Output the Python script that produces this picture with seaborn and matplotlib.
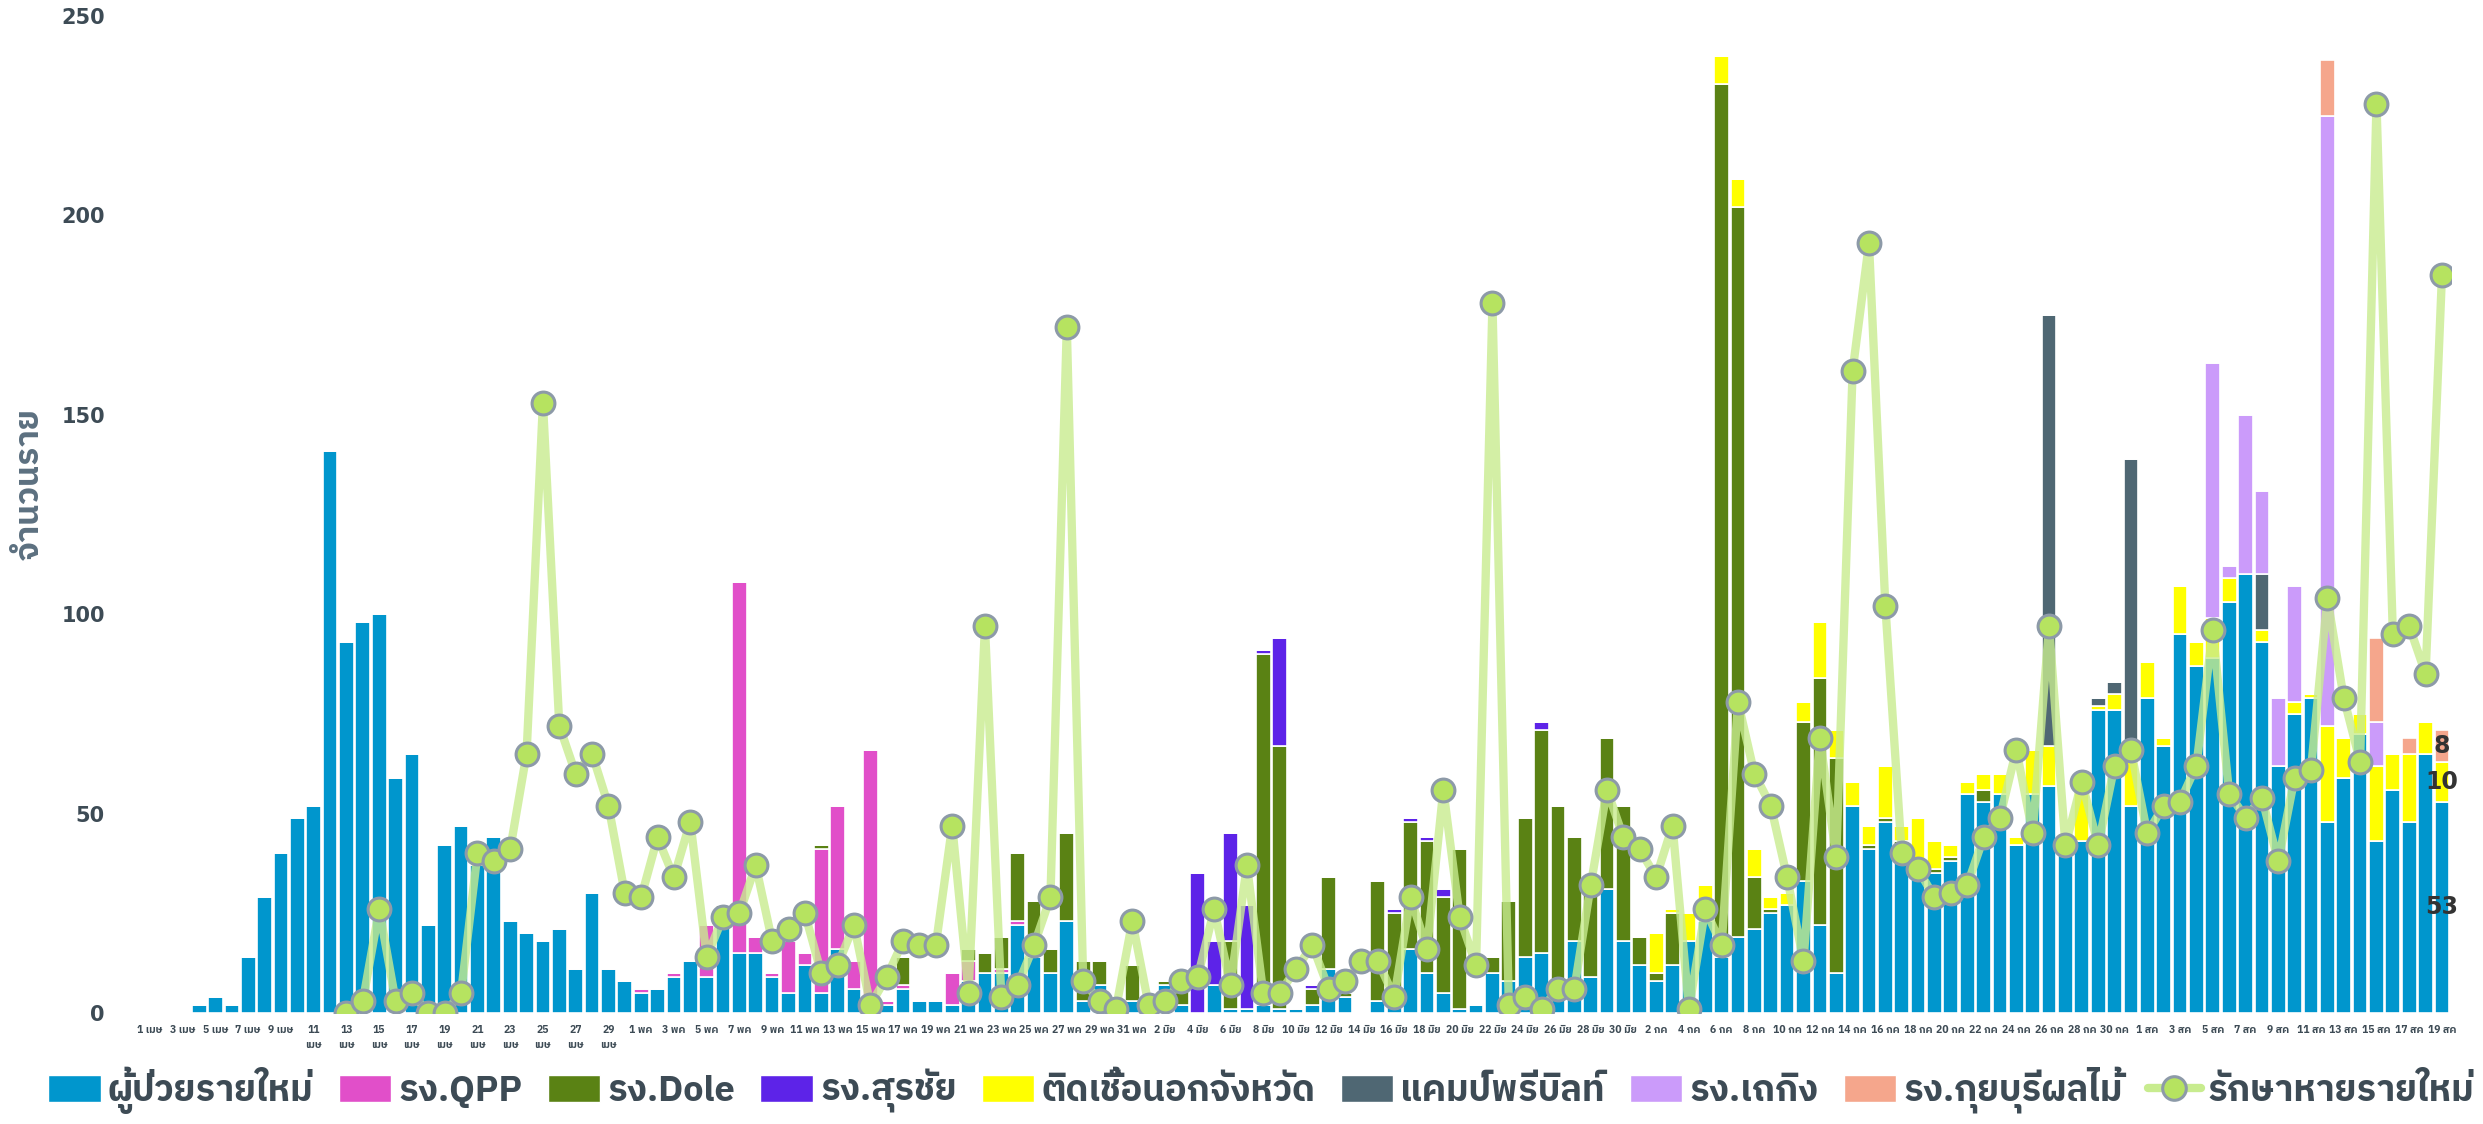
import numpy as np
import pandas as pd
import matplotlib
matplotlib.use("Agg")
import matplotlib.pyplot as plt
import seaborn as sns
from matplotlib import font_manager
from matplotlib.ft2font import FT2Font
from matplotlib.patches import Patch
from matplotlib.lines import Line2D

# ---- data: 1 Apr .. 19 Aug (141 days) ----
start_date = "2021-04-01"
end_date = "2021-08-19"
thai_months = {4: "เมษ", 5: "พค", 6: "มิย", 7: "กค", 8: "สค"}

# new local cases (blue), one value per day
new_cases = [
    0, 0, 0, 2, 4, 2, 14, 29, 40, 49,            # 1-10 Apr
    52, 141, 93, 98, 100, 59, 65, 22, 42, 47,    # 11-20 Apr
    37, 44, 23, 20, 18, 21, 11, 30, 11, 8,       # 21-30 Apr
    5, 6, 9, 13, 9, 24, 15, 15, 9, 5,            # 1-10 May
    12, 5, 16, 6, 2, 2, 6, 3, 3, 2,              # 11-20 May
    8, 10, 10, 22, 14, 10, 23, 3, 7, 0, 3,       # 21-31 May
    0, 7, 2, 0, 7, 1, 1, 2, 1, 1,                # 1-10 Jun
    2, 11, 4, 0, 3, 2, 16, 10, 5, 1,             # 11-20 Jun
    2, 10, 8, 14, 15, 8, 18, 9, 31, 18,          # 21-30 Jun
    12, 8, 12, 18, 23, 14, 19, 21, 25, 27,       # 1-10 Jul
    33, 22, 10, 52, 41, 48, 40, 36, 35, 38,      # 11-20 Jul
    55, 53, 55, 42, 55, 57, 40, 43, 76, 76, 52,  # 21-31 Jul
    79, 67, 95, 87, 89, 103, 110, 93, 62, 75,    # 1-10 Aug
    79, 48, 59, 70, 43, 56, 48, 65, 53,          # 11-19 Aug
]

# clusters, only days with cases
qpp = {"05-01": 1, "05-03": 1, "05-05": 13, "05-06": 2, "05-07": 93, "05-08": 4,
       "05-09": 1, "05-10": 13, "05-11": 3, "05-12": 36, "05-13": 36, "05-14": 7,
       "05-15": 64, "05-16": 1, "05-17": 1, "05-20": 8, "05-21": 5, "05-23": 1,
       "05-24": 1}
dole = {"05-06": 1, "05-12": 1, "05-17": 7, "05-21": 3, "05-22": 5, "05-23": 8,
        "05-24": 17, "05-25": 14, "05-26": 6, "05-27": 22, "05-28": 10, "05-29": 6,
        "05-31": 9, "06-02": 1, "06-03": 5, "06-06": 17, "06-08": 88, "06-09": 66,
        "06-11": 4, "06-12": 23, "06-13": 1, "06-15": 30, "06-16": 23, "06-17": 32,
        "06-18": 33, "06-19": 24, "06-20": 40, "06-22": 4, "06-23": 20, "06-24": 35,
        "06-25": 56, "06-26": 44, "06-27": 26, "06-28": 24, "06-29": 38, "06-30": 34,
        "07-01": 7, "07-02": 2, "07-03": 13, "07-06": 219, "07-07": 183, "07-08": 13,
        "07-09": 1, "07-11": 40, "07-12": 62, "07-13": 54, "07-15": 1, "07-16": 1,
        "07-17": 3, "07-19": 1, "07-20": 1, "07-22": 3, "07-27": 1}
surachai = {"06-04": 35, "06-05": 11, "06-06": 27, "06-07": 26, "06-08": 1,
            "06-09": 27, "06-11": 1, "06-16": 1, "06-17": 1, "06-18": 1,
            "06-19": 2, "06-25": 2}
outside = {"07-02": 10, "07-03": 1, "07-04": 7, "07-05": 9, "07-06": 7, "07-07": 7,
           "07-08": 7, "07-09": 3, "07-10": 3, "07-11": 5, "07-12": 14, "07-13": 7,
           "07-14": 6, "07-15": 5, "07-16": 13, "07-17": 4, "07-18": 13, "07-19": 7,
           "07-20": 3, "07-21": 3, "07-22": 4, "07-23": 5, "07-24": 2, "07-25": 11,
           "07-26": 10, "07-27": 4, "07-28": 15, "07-29": 1, "07-30": 4, "07-31": 11,
           "08-01": 9, "08-02": 2, "08-03": 12, "08-04": 6, "08-05": 10, "08-06": 6,
           "08-08": 3, "08-10": 3, "08-11": 1, "08-12": 24, "08-13": 10, "08-14": 5,
           "08-15": 19, "08-16": 9, "08-17": 17, "08-18": 8, "08-19": 10}
camp = {"07-26": 108, "07-29": 2, "07-30": 3, "07-31": 76, "08-08": 14}
thaking = {"08-05": 64, "08-06": 3, "08-07": 40, "08-08": 21, "08-09": 17,
           "08-10": 29, "08-12": 153, "08-15": 11}
kuiburi = {"08-12": 14, "08-15": 21, "08-17": 4, "08-19": 8}

# newly recovered (line), starts on 13 Apr
recovered = [
    None, None, None, None, None, None, None, None, None, None,
    None, None, 0, 3, 26, 3, 5, 0, 0, 5,
    40, 38, 41, 65, 153, 72, 60, 65, 52, 30,
    29, 44, 34, 48, 14, 24, 25, 37, 18, 21,
    25, 10, 12, 22, 2, 9, 18, 17, 17, 47,
    5, 97, 4, 7, 17, 29, 172, 8, 3, 1, 23,
    2, 3, 8, 9, 26, 7, 37, 5, 5, 11,
    17, 6, 8, 13, 13, 4, 29, 16, 56, 24,
    12, 178, 2, 4, 1, 6, 6, 32, 56, 44,
    41, 34, 47, 1, 26, 17, 78, 60, 52, 34,
    13, 69, 39, 161, 193, 102, 40, 36, 29, 30,
    32, 44, 49, 66, 45, 97, 42, 58, 42, 62, 66,
    45, 52, 53, 62, 96, 55, 49, 54, 38, 59,
    61, 104, 79, 63, 228, 95, 97, 85, 185,
]

series_names = ["ผู้ป่วยรายใหม่", "รง.QPP", "รง.Dole", "รง.สุรชัย", "ติดเชื้อนอกจังหวัด",
                "แคมป์พรีบิลท์", "รง.เถกิง", "รง.กุยบุรีผลไม้"]
series_colors = ["#0096CD", "#E14FC9", "#5A8214", "#5D23E8", "#FFFF00",
                 "#4F6773", "#CB9BFA", "#F5A68C"]
line_name = "รักษาหายรายใหม่"


def pick_thai_font():
    found = []
    for f in font_manager.fontManager.ttflist:
        try:
            if FT2Font(f.fname).get_char_index(ord("ก")):
                found.append(f.name)
        except Exception:
            continue
    found = list(dict.fromkeys(found))
    found.sort(key=lambda n: (("Thai" not in n), ("Looped" in n), n))
    return found[0] if found else None


sns.set_theme(style="white")
thai = pick_thai_font()
families = [thai, "DejaVu Sans"] if thai else ["DejaVu Sans"]
plt.rcParams["font.family"] = families

dates = pd.date_range(start_date, end_date, freq="D")
keys = dates.strftime("%m-%d")
n = len(dates)
x = np.arange(n)

layers = [np.array(new_cases, dtype=float)]
for d in [qpp, dole, surachai, outside, camp, thaking, kuiburi]:
    layers.append(np.array([d.get(k, 0) for k in keys], dtype=float))

fig = plt.figure(figsize=(24.83, 11.24), dpi=100)
ax = fig.add_axes([0.0568, 0.0988, 0.9303, 0.887])

bottom = np.zeros(n)
for vals, color in zip(layers, series_colors):
    ax.bar(x, vals, bottom=bottom, width=0.9, color=color,
           edgecolor="white", linewidth=1.2, zorder=2)
    bottom += vals

rec = pd.DataFrame({"x": x, "rec": pd.to_numeric(pd.Series(recovered), errors="coerce")}).dropna()
line_col = "#C8EC8F"
sns.lineplot(data=rec, x="x", y="rec", ax=ax, color=line_col, linewidth=6,
             alpha=0.8, zorder=3, legend=False)
ax.scatter(rec["x"], rec["rec"], s=270, color="#B6E360", edgecolor="#8D9AA8",
           linewidth=2.2, zorder=4)

# labels on the last bar
last = n - 1
for k in [0, 4, 7]:
    v = layers[k][last]
    if v > 0:
        base = sum(layers[j][last] for j in range(k))
        ax.text(last, base + v / 2, f"{int(v)}", ha="center", va="center",
                fontsize=17, fontweight="bold", color="#333333", zorder=6,
                family="DejaVu Sans")

ax.set_xlim(-0.55, n - 0.45)
ax.set_ylim(0, 250)
ax.set_yticks([0, 50, 100, 150, 200, 250])
ax.tick_params(axis="y", length=0, pad=26, labelsize=15, labelcolor="#3D4B55")
for t in ax.get_yticklabels():
    t.set_fontweight("bold")
    t.set_family("DejaVu Sans")

ticks = x[::2]
labels = []
for i in ticks:
    d = dates[i]
    sep = "\n" if (d.month == 4 and d.day >= 11) else " "
    labels.append(f"{d.day}{sep}{thai_months[d.month]}")
ax.set_xticks(ticks)
ax.set_xticklabels(labels, fontsize=7.5, fontweight="bold", color="#3D4B55",
                   linespacing=1.6)
ax.tick_params(axis="x", length=0, pad=9)
ax.set_xlabel("")

ax.set_ylabel("จำนวนราย", fontsize=24, fontweight="bold", color="#5C7080")
ax.yaxis.set_label_coords(-0.041, 0.53)
sns.despine(ax=ax, left=True, bottom=True)
ax.grid(False)

handles = [Patch(facecolor=c, edgecolor="white") for c in series_colors]
handles.append(Line2D([0], [0], color=line_col, lw=6, marker="o", markersize=17,
                      markerfacecolor="#B6E360", markeredgecolor="#8D9AA8",
                      markeredgewidth=2.2))
leg = fig.legend(handles, series_names + [line_name], loc="center",
                 bbox_to_anchor=(0.508, 0.030), ncol=9, frameon=False,
                 fontsize=26, handlelength=1.45, handleheight=0.8,
                 handletextpad=0.2, columnspacing=0.7)
for t in leg.get_texts():
    t.set_fontweight("bold")
    t.set_color("#3D4B55")

fig.savefig("out.png", dpi=100)
